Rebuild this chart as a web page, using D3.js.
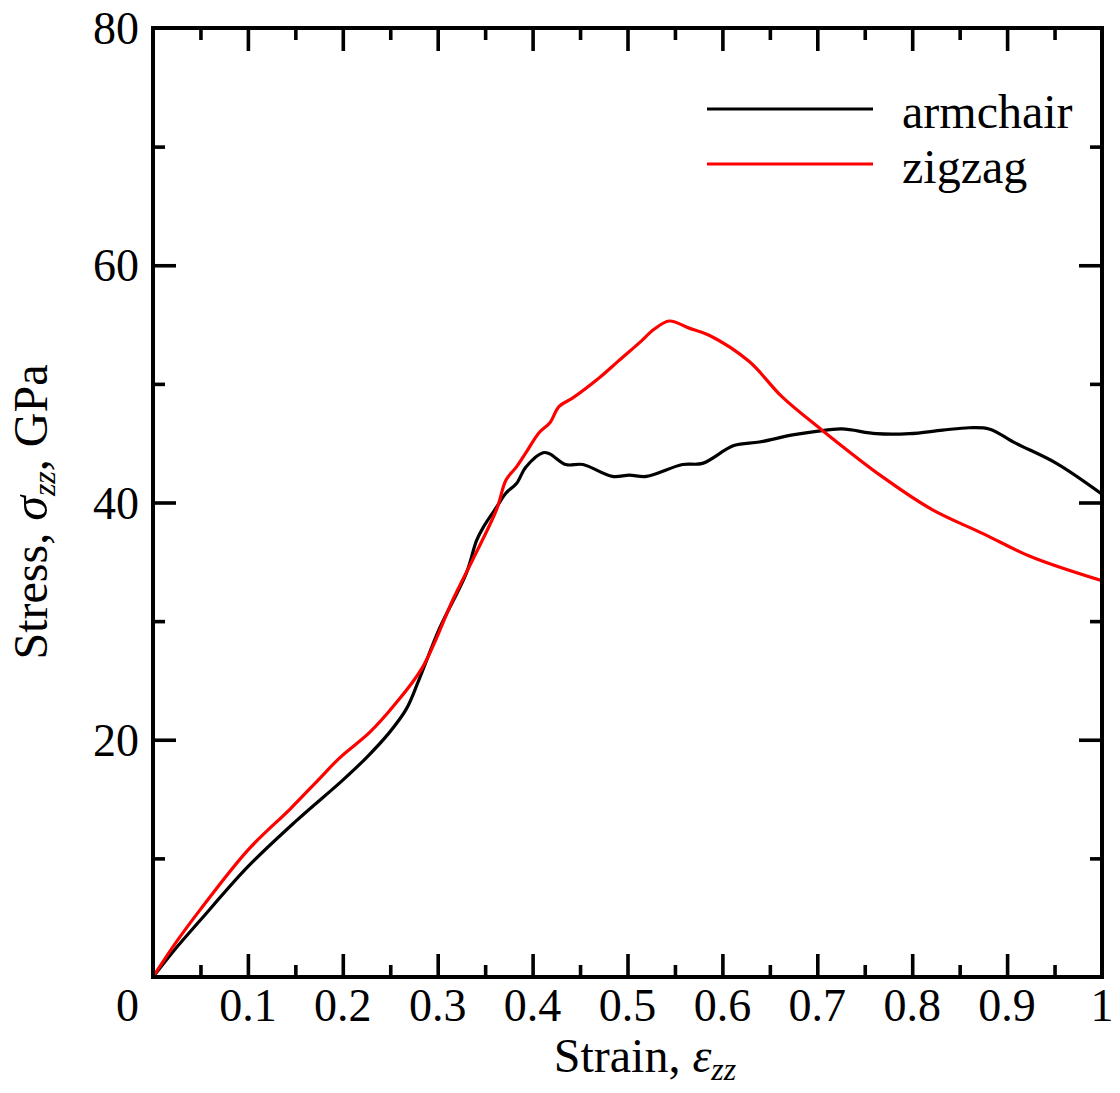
<!DOCTYPE html>
<html><head><meta charset="utf-8">
<script src="https://cdn.jsdelivr.net/npm/d3@7"></script>
<style>body{margin:0;background:#fff}</style>
</head><body>
<svg id="c" width="1120" height="1093"></svg>
<script>
const armchairStrain = [0, 0.025, 0.05, 0.1, 0.15, 0.2, 0.225, 0.249, 0.267, 0.28, 0.302, 0.33, 0.341, 0.348, 0.362, 0.372, 0.383, 0.393, 0.411, 0.418, 0.435, 0.453, 0.484, 0.502, 0.52, 0.558, 0.579, 0.612, 0.639, 0.674, 0.699, 0.726, 0.762, 0.797, 0.832, 0.86, 0.881, 0.909, 0.952, 1.0];
const armchairStress = [0, 2.5, 4.8, 9.3, 13.1, 16.6, 18.5, 20.6, 22.6, 25.0, 29.4, 34.0, 36.8, 37.9, 39.6, 40.8, 41.6, 43.0, 44.2, 44.1, 43.2, 43.2, 42.2, 42.3, 42.2, 43.2, 43.3, 44.8, 45.1, 45.7, 46.0, 46.2, 45.8, 45.8, 46.1, 46.3, 46.2, 45.0, 43.3, 40.7];
const zigzagStrain = [0, 0.025, 0.05, 0.1, 0.145, 0.174, 0.197, 0.228, 0.253, 0.284, 0.316, 0.337, 0.362, 0.372, 0.383, 0.393, 0.407, 0.418, 0.428, 0.442, 0.47, 0.49, 0.513, 0.528, 0.544, 0.565, 0.586, 0.628, 0.663, 0.705, 0.768, 0.821, 0.874, 0.926, 1.0];
const zigzagStress = [0, 3.0, 5.7, 10.7, 14.2, 16.6, 18.5, 20.6, 22.8, 26.1, 31.8, 35.2, 39.4, 41.9, 43.0, 44.2, 45.9, 46.7, 48.1, 48.8, 50.5, 51.9, 53.5, 54.6, 55.3, 54.7, 54.1, 51.9, 48.9, 46.1, 42.2, 39.4, 37.4, 35.4, 33.4];
const xTickLabels = ["0.1","0.2","0.3","0.4","0.5","0.6","0.7","0.8","0.9","1"];
const yTickLabels = ["20","40","60","80"];
const seriesNames = ["armchair","zigzag"];
const seriesColors = ["#000000","#ff0000"];

const L=153, R=1102, T=28, B=977;
const x = d3.scaleLinear().domain([0,1]).range([L,R]);
const y = d3.scaleLinear().domain([0,80]).range([B,T]);
const svg = d3.select("#c");
const font = "'Liberation Serif','Times New Roman',serif";

svg.append("defs").append("clipPath").attr("id","pc").append("rect")
  .attr("x",L).attr("y",T).attr("width",R-L).attr("height",B-T);

const line = d3.line().x(d=>x(d[0])).y(d=>y(d[1])).curve(d3.curveCatmullRom.alpha(0.5));
const series = [
  armchairStrain.map((s,i)=>[s,armchairStress[i]]),
  zigzagStrain.map((s,i)=>[s,zigzagStress[i]])
];
const g = svg.append("g").attr("clip-path","url(#pc)");
series.forEach((d,i)=>{
  g.append("path").datum(d).attr("d",line).attr("fill","none")
   .attr("stroke",seriesColors[i]).attr("stroke-width",3.2).attr("stroke-linejoin","round");
});

// axes
const majX = d3.range(1,10).map(v=>v/10), minX = d3.range(0,10).map(v=>v/10+0.05);
const majY = [20,40,60], minY = [10,30,50,70];
function ticks(axisGen, vals, len){
  return axisGen.tickValues(vals).tickSizeInner(len).tickSizeOuter(0).tickFormat("");
}
const sw = 3.6;
function styleAxis(sel){ sel.select(".domain").remove(); sel.selectAll("line").attr("stroke","#000").attr("stroke-width",sw); }
svg.append("g").attr("transform",`translate(0,${B})`).call(ticks(d3.axisTop(x),majX,23)).call(styleAxis);
svg.append("g").attr("transform",`translate(0,${B})`).call(ticks(d3.axisTop(x),minX,12)).call(styleAxis);
svg.append("g").attr("transform",`translate(0,${T})`).call(ticks(d3.axisBottom(x),majX,23)).call(styleAxis);
svg.append("g").attr("transform",`translate(0,${T})`).call(ticks(d3.axisBottom(x),minX,12)).call(styleAxis);
svg.append("g").attr("transform",`translate(${L},0)`).call(ticks(d3.axisRight(y),majY,23)).call(styleAxis);
svg.append("g").attr("transform",`translate(${L},0)`).call(ticks(d3.axisRight(y),minY,12)).call(styleAxis);
svg.append("g").attr("transform",`translate(${R},0)`).call(ticks(d3.axisLeft(y),majY,23)).call(styleAxis);
svg.append("g").attr("transform",`translate(${R},0)`).call(ticks(d3.axisLeft(y),minY,12)).call(styleAxis);

svg.append("rect").attr("x",L).attr("y",T).attr("width",R-L).attr("height",B-T)
  .attr("fill","none").attr("stroke","#000").attr("stroke-width",4);

// tick labels
const fs = 46, tfs = 48;
svg.append("g").selectAll("text").data(xTickLabels).join("text")
  .attr("x",(d)=>x(+d)).attr("y",1021).attr("text-anchor","middle")
  .attr("font-family",font).attr("font-size",fs).text(d=>d);
svg.append("text").attr("x",139).attr("y",1021).attr("text-anchor","end")
  .attr("font-family",font).attr("font-size",fs).text("0");
svg.append("g").selectAll("text").data(yTickLabels).join("text")
  .attr("x",139).attr("y",d=>y(+d)+16).attr("text-anchor","end")
  .attr("font-family",font).attr("font-size",fs).text(d=>d);

// axis titles
const xt = svg.append("text").attr("x",645).attr("y",1072).attr("text-anchor","middle")
  .attr("font-family",font).attr("font-size",tfs);
xt.append("tspan").text("Strain, ");
xt.append("tspan").attr("font-style","italic").text("ε");
xt.append("tspan").attr("font-style","italic").attr("font-size",32).attr("dy",8).text("zz");

const yt = svg.append("text").attr("transform","translate(47,512) rotate(-90)").attr("text-anchor","middle")
  .attr("font-family",font).attr("font-size",tfs);
yt.append("tspan").text("Stress, ");
yt.append("tspan").attr("font-style","italic").attr("font-size",50).text("σ");
yt.append("tspan").attr("font-style","italic").attr("font-size",32).attr("dy",8).text("zz");
yt.append("tspan").attr("dy",-8).text(", GPa");

// legend
seriesNames.forEach((n,i)=>{
  const ly = 109 + i*55;
  svg.append("line").attr("x1",707).attr("x2",873).attr("y1",ly).attr("y2",ly)
    .attr("stroke",seriesColors[i]).attr("stroke-width",3.2);
  svg.append("text").attr("x",902).attr("y",ly+19).attr("font-family",font)
    .attr("font-size",tfs).text(n);
});
</script>
</body></html>
